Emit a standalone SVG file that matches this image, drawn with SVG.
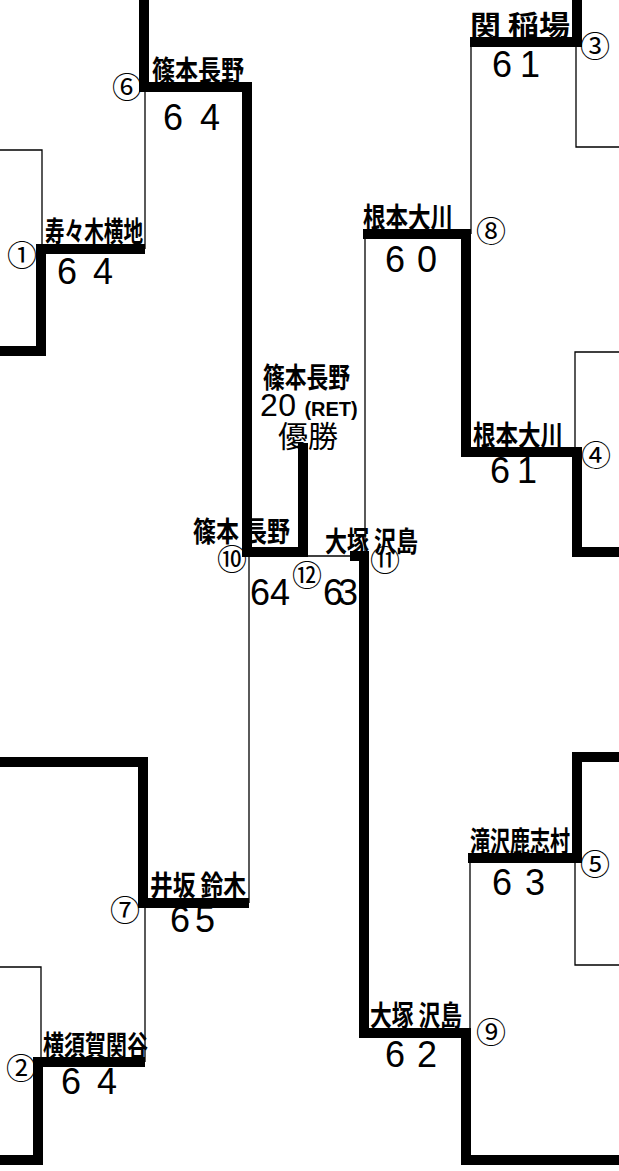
<svg xmlns="http://www.w3.org/2000/svg" width="619" height="1171" viewBox="0 0 619 1171">
<style>
.thick{fill:none;stroke:#000;stroke-width:10;stroke-linejoin:miter;stroke-linecap:butt}
.thin{fill:none;stroke:#000;stroke-width:1.3}
.num{font-family:"Noto Sans CJK JP",sans-serif;font-size:30px;text-anchor:middle;dominant-baseline:central;fill:#000}
.name{font-family:"Noto Sans CJK JP",sans-serif;font-size:28px;font-weight:bold;fill:#000}
.score{font-family:"Liberation Sans",sans-serif;font-size:36px;fill:#000}
.win{font-family:"Noto Sans CJK JP",sans-serif;font-size:30px;fill:#000}
</style>
<rect width="619" height="1171" fill="#fff"/>
<g id="connectors">
<path class="thick" d="M144,0 V87 H247 V552 H303 V443"/>
<path class="thick" d="M0,351 H41 V249 H145"/>
<path class="thick" d="M0,762 H143 V903 H249"/>
<path class="thick" d="M0,1160 H38 V1062 H145"/>
<path class="thick" d="M577,0 V42 H470"/>
<path class="thick" d="M363,234 H466 V452 H577 V552 H619"/>
<path class="thick" d="M619,757 H577 V858 H468"/>
<path class="thick" d="M350,556 H364 V1033 H466 V1160 H619"/>
<path class="thin" d="M0,150 H42 V249"/>
<path class="thin" d="M145,87 V249"/>
<path class="thin" d="M249,552 V903"/>
<path class="thin" d="M145,903 V1062"/>
<path class="thin" d="M0,967 H41 V1062"/>
<path class="thin" d="M471,42 V234"/>
<path class="thin" d="M576,42 V147 H619"/>
<path class="thin" d="M619,352 H575 V452"/>
<path class="thin" d="M365,234 V556"/>
<path class="thin" d="M303,556 H365"/>
<path class="thin" d="M470,858 V1033"/>
<path class="thin" d="M575,858 V965 H619"/>
</g>
<g id="m1">
<text class="num" x="22" y="253">①</text>
<text class="name" x="45" y="242" textLength="98" lengthAdjust="spacingAndGlyphs">寿々木横地</text>
<text class="score" x="57" y="284" textLength="56">64</text>
</g>
<g id="m2">
<text class="num" x="21" y="1066">②</text>
<text class="name" x="43" y="1056" textLength="105" lengthAdjust="spacingAndGlyphs">横須賀関谷</text>
<text class="score" x="61" y="1094" textLength="56">64</text>
</g>
<g id="m3">
<text class="num" x="595" y="44">③</text>
<text class="name" x="470" y="36" textLength="100" lengthAdjust="spacingAndGlyphs">関 稲場</text>
<text class="score" x="492" y="77" textLength="48">61</text>
</g>
<g id="m4">
<text class="num" x="596" y="453">④</text>
<text class="name" x="473" y="446" textLength="90" lengthAdjust="spacingAndGlyphs">根本大川</text>
<text class="score" x="490" y="483" textLength="47">61</text>
</g>
<g id="m5">
<text class="num" x="595" y="862">⑤</text>
<text class="name" x="470" y="852" textLength="100" lengthAdjust="spacingAndGlyphs">滝沢鹿志村</text>
<text class="score" x="492" y="895" textLength="53">63</text>
</g>
<g id="m6">
<text class="num" x="127" y="85">⑥</text>
<text class="name" x="152" y="81" textLength="92" lengthAdjust="spacingAndGlyphs">篠本長野</text>
<text class="score" x="163" y="130" textLength="57">64</text>
</g>
<g id="m7">
<text class="num" x="125" y="908">⑦</text>
<text class="name" x="150" y="896" textLength="96" lengthAdjust="spacingAndGlyphs">井坂 鈴木</text>
<text class="score" x="170" y="932" textLength="45">65</text>
</g>
<g id="m8">
<text class="num" x="491" y="229">⑧</text>
<text class="name" x="363" y="228" textLength="90" lengthAdjust="spacingAndGlyphs">根本大川</text>
<text class="score" x="385" y="272" textLength="52">60</text>
</g>
<g id="m9">
<text class="num" x="491" y="1030">⑨</text>
<text class="name" x="370" y="1026" textLength="92" lengthAdjust="spacingAndGlyphs">大塚 沢島</text>
<text class="score" x="385" y="1067" textLength="52">62</text>
</g>
<g id="m10">
<text class="num" x="232" y="557">⑩</text>
<text class="name" x="193" y="542" textLength="97" lengthAdjust="spacingAndGlyphs">篠本 長野</text>
<text class="score" x="250" y="605" textLength="40">64</text>
</g>
<g id="m11">
<text class="num" x="385" y="558">⑪</text>
<text class="name" x="325" y="552" textLength="93" lengthAdjust="spacingAndGlyphs">大塚 沢島</text>
<text class="score" x="323" y="605" textLength="35">63</text>
</g>
<g id="m12">
<text class="num" x="307" y="573">⑫</text>
<text class="name" x="263" y="388" textLength="87" lengthAdjust="spacingAndGlyphs">篠本長野</text>
<text x="260" y="416" font-family="Liberation Sans, sans-serif" font-size="32"><tspan textLength="36">20</tspan><tspan font-size="20" font-weight="bold" dx="8">(RET)</tspan></text>
<text class="win" x="278" y="447" textLength="60" lengthAdjust="spacingAndGlyphs">優勝</text>
</g>
</svg>
